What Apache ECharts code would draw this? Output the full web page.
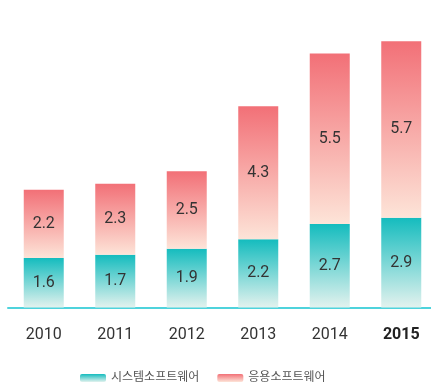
<!DOCTYPE html>
<html>
<head>
<meta charset="utf-8">
<script src="https://cdn.jsdelivr.net/npm/echarts@6/dist/echarts.min.js"></script>
<style>
  html, body { margin: 0; padding: 0; background: #fff; }
  #chart { width: 431px; height: 387px; }
</style>
</head>
<body>
<div id="chart"></div>
<script>
// Software market by year: system software + application software (stacked)
const years = ['2010', '2011', '2012', '2013', '2014', '2015'];
const systemSoftware = [1.6, 1.7, 1.9, 2.2, 2.7, 2.9];
const appSoftware = [2.2, 2.3, 2.5, 4.3, 5.5, 5.7];
const seriesNames = ['시스템소프트웨어', '응용소프트웨어'];
const highlightYear = '2015';

const fontFamily = 'Roboto, "Noto Sans CJK KR", sans-serif';

function vGrad(top, bottom) {
  return new echarts.graphic.LinearGradient(0, 0, 0, 1, [
    { offset: 0, color: top },
    { offset: 1, color: bottom }
  ]);
}

const chart = echarts.init(document.getElementById('chart'));

const labelStyle = {
  show: true,
  position: 'inside',
  color: '#333',
  fontSize: 16,
  fontFamily: fontFamily
};

chart.setOption({
  animation: false,
  grid: { left: 8, top: 19.5, width: 429, height: 288, outerBoundsMode: 'none', containLabel: false },
  xAxis: {
    type: 'category',
    data: years,
    axisLine: { lineStyle: { color: '#4fd3dc', width: 2 } },
    axisTick: { show: false },
    axisLabel: {
      interval: 0,
      margin: 19,
      fontFamily: fontFamily,
      fontSize: 16,
      color: '#333',
      formatter: function (v) {
        return v === highlightYear ? '{b|' + v + '}' : v;
      },
      rich: {
        b: { fontWeight: 'bold', fontSize: 16, color: '#222', fontFamily: fontFamily }
      }
    }
  },
  yAxis: {
    type: 'value',
    min: 0,
    max: 9.3,
    show: false,
    splitLine: { show: false }
  },
  legend: {
    bottom: -2,
    left: 75,
    itemWidth: 26,
    itemHeight: 8,
    itemGap: 18,
    textStyle: { fontFamily: fontFamily, fontSize: 12, color: '#555' },
    data: seriesNames
  },
  series: [
    {
      name: seriesNames[0],
      type: 'bar',
      stack: 'total',
      barWidth: 40,
      data: systemSoftware,
      itemStyle: { color: vGrad('#14bcbe', '#e3f2ee') },
      label: labelStyle
    },
    {
      name: seriesNames[1],
      type: 'bar',
      stack: 'total',
      barWidth: 40,
      data: appSoftware,
      itemStyle: { color: vGrad('#f27077', '#fde4d8') },
      label: labelStyle
    }
  ]
});
</script>
</body>
</html>
